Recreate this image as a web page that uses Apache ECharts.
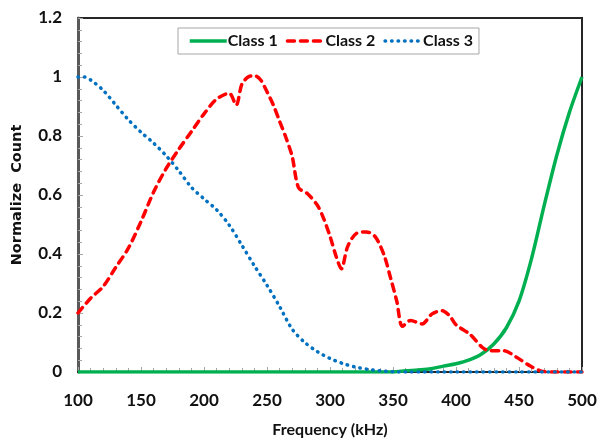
<!DOCTYPE html>
<html>
<head>
<meta charset="utf-8">
<script src="https://cdn.jsdelivr.net/npm/echarts@6/dist/echarts.min.js"></script>
<style>
  html, body { margin: 0; padding: 0; background: #fff; }
  #chart { width: 606px; height: 439px; }
</style>
</head>
<body>
<div id="chart"></div>
<script>
// Normalized count vs frequency, three classes
const class1Freq = [100, 350, 360, 370, 380, 390, 400, 410, 420, 430, 440, 450, 460, 470, 480, 490, 500]
const class1Val  = [0, 0, 0.004, 0.007, 0.011, 0.02, 0.028, 0.04, 0.06, 0.095, 0.15, 0.24, 0.385, 0.565, 0.735, 0.88, 1.0]

const class2Freq = [100, 110, 120, 130, 140, 150, 160, 170, 180, 190, 200, 210, 220, 225.5, 230, 235, 240, 245,
    250, 255, 260, 265, 270, 275, 282, 290, 295, 300, 305, 309, 314, 321, 329, 336, 343, 348, 353, 357.5,
    364, 373, 381, 389, 395, 400, 411, 421, 427, 438, 448, 459, 467, 475, 500]
const class2Val  = [0.20, 0.25, 0.29, 0.355, 0.42, 0.51, 0.61, 0.69, 0.755, 0.815, 0.875, 0.925, 0.945, 0.905, 0.975, 1.0, 1.005, 0.99,
    0.95, 0.905, 0.85, 0.795, 0.73, 0.625, 0.605, 0.565, 0.52, 0.46, 0.39, 0.35, 0.425, 0.47, 0.475, 0.458, 0.395, 0.32, 0.24, 0.155,
    0.175, 0.163, 0.197, 0.208, 0.19, 0.16, 0.128, 0.083, 0.072, 0.072, 0.05, 0.02, 0.004, 0, 0]

const class3Freq = [100, 105, 110, 120, 130, 140, 150, 160, 170, 180, 190, 200, 210, 220, 230, 240, 250, 260,
    270, 280, 290, 300, 310, 320, 330, 340, 350, 360, 400, 450, 500]
const class3Val  = [1.0, 1.0, 0.99, 0.955, 0.905, 0.855, 0.813, 0.776, 0.733, 0.682, 0.626, 0.587, 0.55, 0.498, 0.43, 0.36, 0.294, 0.222,
    0.145, 0.10, 0.069, 0.046, 0.029, 0.017, 0.009, 0.004, 0.001, 0, 0, 0, 0]

const xTicks = { min: 100, max: 500, interval: 50 }
const yTicks = { min: 0, max: 1.2, interval: 0.2 }

const COLORS = { class1: '#00B050', class2: '#FF0000', class3: '#0070C0', axis: '#262626', tick: '#A6A6A6' }
const LABEL_FONT = "Lato, 'Liberation Sans', sans-serif"

const pairs = (xs, ys) => xs.map((x, i) => [x, ys[i]])

const chart = echarts.init(document.getElementById('chart'))

chart.setOption({
    animation: false,
    backgroundColor: '#fff',
    grid: {
        left: 78, right: 24, top: 18, bottom: 67,
        containLabel: false, outerBoundsMode: 'none',
        show: true, borderColor: COLORS.axis, borderWidth: 2
    },
    legend: {
        top: 28,
        left: 178,
        padding: [5, 6, 5, 10],
        itemWidth: 37,
        itemHeight: 14,
        itemGap: 8,
        borderColor: '#A6A6A6',
        borderWidth: 1,
        // hide the symbol in the middle of the legend line
        itemStyle: { opacity: 0 },
        lineStyle: { width: 3.5 },
        textStyle: { fontFamily: LABEL_FONT, fontWeight: 'bold', fontSize: 16, color: '#111', padding: [0, 0, 0, -4] }
    },
    xAxis: {
        type: 'value',
        min: xTicks.min, max: xTicks.max, interval: xTicks.interval,
        name: 'Frequency (kHz)',
        nameLocation: 'middle',
        nameGap: 50,
        nameTextStyle: { fontFamily: LABEL_FONT, fontWeight: 'bold', fontSize: 16, color: '#111' },
        axisLine: { lineStyle: { color: COLORS.axis, width: 2 } },
        axisTick: { inside: true, length: 5, lineStyle: { color: COLORS.tick } },
        minorTick: { show: true, splitNumber: 5, length: 4, lineStyle: { color: COLORS.tick } },
        axisLabel: { margin: 20, fontFamily: LABEL_FONT, fontWeight: 'bold', fontSize: 17, color: '#111' },
        splitLine: { show: false }
    },
    yAxis: {
        type: 'value',
        min: yTicks.min, max: yTicks.max, interval: yTicks.interval,
        name: 'Normalize  Count',
        nameLocation: 'middle',
        nameGap: 53,
        nameTextStyle: { fontFamily: "'DejaVu Sans', sans-serif", fontWeight: 'bold', fontSize: 14.5, color: '#111' },
        axisLine: { show: true, lineStyle: { color: '#595959', width: 3 } },
        axisTick: { inside: true, length: 5, lineStyle: { color: COLORS.tick } },
        minorTick: { show: true, splitNumber: 5, length: 4, lineStyle: { color: COLORS.tick } },
        axisLabel: { margin: 16, fontFamily: LABEL_FONT, fontWeight: 'bold', fontSize: 17, color: '#111' },
        splitLine: { show: false }
    },
    series: [
        {
            name: 'Class 1', type: 'line', symbol: 'none', smooth: 0.3,
            data: pairs(class1Freq, class1Val),
            lineStyle: { color: COLORS.class1, width: 3.5 },
            itemStyle: { color: COLORS.class1 },
            z: 3
        },
        {
            name: 'Class 2', type: 'line', symbol: 'none', smooth: 0.3,
            data: pairs(class2Freq, class2Val),
            lineStyle: { color: COLORS.class2, width: 3.5, type: [7, 6], cap: 'round' },
            itemStyle: { color: COLORS.class2 },
            z: 4
        },
        {
            name: 'Class 3', type: 'line', symbol: 'none', smooth: 0.3,
            data: pairs(class3Freq, class3Val),
            lineStyle: { color: COLORS.class3, width: 3.5, type: [0.5, 6], cap: 'round' },
            itemStyle: { color: COLORS.class3 },
            z: 5
        }
    ]
})
</script>
</body>
</html>
